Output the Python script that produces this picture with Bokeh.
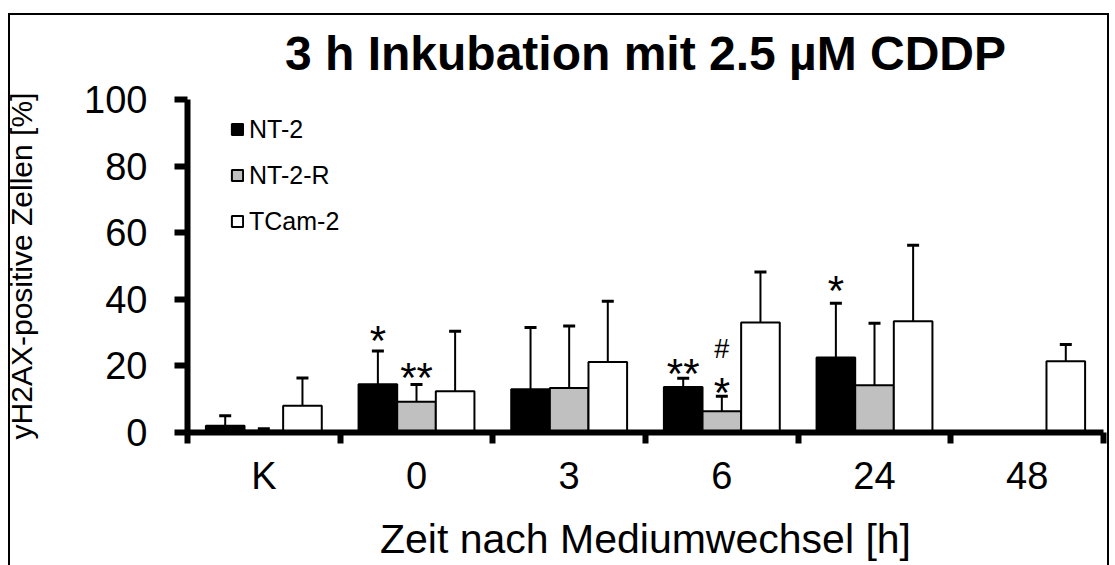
from bokeh.plotting import figure
from bokeh.models import (Range1d, FixedTicker, Whisker, TeeHead, Legend, LegendItem,
                          Title, ColumnDataSource)
from bokeh.core.properties import value
from bokeh.embed import file_html
from bokeh.resources import INLINE

# ---- data ----
categories = ["K", "0", "3", "6", "24", "48"]
series = ["NT-2", "NT-2-R", "TCam-2"]
nt2 = [2.0, 14.5, 13.0, 13.7, 22.5, 0.0]
nt2_err = [3.0, 10.0, 18.5, 2.6, 16.3, 0.0]
nt2r = [0.5, 9.2, 13.4, 6.4, 14.2, 0.0]
nt2r_err = [0.6, 5.2, 18.6, 4.5, 18.6, 0.0]
tcam = [8.0, 12.4, 21.2, 33.0, 33.4, 21.4]
tcam_err = [8.4, 18.0, 18.2, 15.2, 22.8, 5.0]

# significance marks: category, series, text, y (data value of text baseline)
ann_cat = ["0", "0", "6", "6", "6", "24"]
ann_series = ["NT-2", "NT-2-R", "NT-2", "NT-2-R", "NT-2-R", "NT-2"]
ann_text = ["*", "**", "**", "*", "#", "*"]
ann_y = [27.6, 16.6, 17.8, 12.0, 25.2, 42.5]

title_text = "3 h Inkubation mit 2.5 µM CDDP"
x_label = "Zeit nach Mediumwechsel [h]"
y_label = "yH2AX-positive Zellen [%]"
y_ticks = [0, 20, 40, 60, 80, 100]

FONT = "Liberation Sans"
BAR_W = 0.253
offsets = {"NT-2": -BAR_W, "NT-2-R": 0.0, "TCam-2": BAR_W}
fills = {"NT-2": "#000000", "NT-2-R": "#C0C0C0", "TCam-2": "#FFFFFF"}

p = figure(width=1112, height=565, x_range=Range1d(0, 6), y_range=Range1d(0, 100),
           output_backend="svg", toolbar_location=None,
           min_border_left=187, min_border_right=9, min_border_top=99, min_border_bottom=133)
p.outline_line_color = None
p.xgrid.visible = False
p.ygrid.visible = False
p.background_fill_color = None
p.border_fill_color = None

# outer frame line (top, left, right) drawn behind the transparent canvas
p.styles = {
    "background-image": "linear-gradient(#000,#000), linear-gradient(#000,#000), linear-gradient(#000,#000)",
    "background-size": "1101px 2px, 2px 600px, 2px 600px",
    "background-position": "8px 13px, 8px 13px, 1107px 13px",
    "background-repeat": "no-repeat",
    "background-color": "white",
}

vals = {"NT-2": (nt2, nt2_err), "NT-2-R": (nt2r, nt2r_err), "TCam-2": (tcam, tcam_err)}
items = []
for s in series:
    v, e = vals[s]
    xs = [i + 0.5 + offsets[s] for i in range(len(categories))]
    src = ColumnDataSource(dict(x=xs, top=v, upper=[a + b for a, b in zip(v, e)]))
    r = p.vbar(x="x", top="top", bottom=0, width=BAR_W, source=src,
               fill_color=fills[s], line_color="black", line_width=2)
    w = Whisker(base="x", lower="top", upper="upper", source=src, dimension="height",
                line_color="black", line_width=2,
                upper_head=TeeHead(size=12, line_color="black", line_width=3),
                lower_head=None)
    p.add_layout(w)
    items.append(LegendItem(label=s, renderers=[r]))

# annotation marks
ax = [categories.index(c) + 0.5 + offsets[s] for c, s in zip(ann_cat, ann_series)]
asz = ["27px" if t == "#" else "42px" for t in ann_text]
p.text(x=ax, y=ann_y, text=ann_text, text_font=value(FONT), text_font_size=asz,
       text_align="center", text_baseline="alphabetic", text_color="black")

legend = Legend(items=items, location=(43, 196), orientation="vertical",
                glyph_width=14, glyph_height=14, label_height=30, spacing=16,
                label_standoff=5, padding=0, margin=0,
                label_text_font=FONT, label_text_font_size="25px", label_text_color="black",
                border_line_color=None, background_fill_alpha=0)
p.add_layout(legend)

# x axis
xa = p.xaxis[0]
xa.ticker = FixedTicker(ticks=[i + 0.5 for i in range(len(categories))],
                        minor_ticks=list(range(len(categories) + 1)))
xa.major_label_overrides = {i + 0.5: c for i, c in enumerate(categories)}
xa.major_tick_out = 0
xa.major_tick_in = 0
xa.minor_tick_out = 11
xa.minor_tick_in = 0
xa.minor_tick_line_width = 6
xa.axis_line_width = 6
xa.major_label_standoff = 11
xa.major_label_text_font = FONT
xa.major_label_text_font_size = "38px"
xa.major_label_text_line_height = 1.0
xa.major_label_text_color = "black"
xa.axis_label = x_label
xa.axis_label_text_font = FONT
xa.axis_label_text_font_size = "41px"
xa.axis_label_text_line_height = 1.0
xa.axis_label_text_font_style = "normal"
xa.axis_label_text_color = "black"
xa.axis_label_standoff = 16

# y axis
ya = p.yaxis[0]
ya.ticker = FixedTicker(ticks=y_ticks)
ya.major_tick_out = 13
ya.major_tick_in = 0
ya.major_tick_line_width = 6
ya.minor_tick_line_color = None
ya.axis_line_width = 6
ya.major_label_standoff = 27
ya.major_label_text_font = FONT
ya.major_label_text_font_size = "38px"
ya.major_label_text_color = "black"
ya.axis_label = y_label
ya.axis_label_text_font = FONT
ya.axis_label_text_font_size = "30px"
ya.axis_label_text_line_height = 1.0
ya.axis_label_text_font_style = "normal"
ya.axis_label_text_color = "black"
ya.axis_label_standoff = 43

p.title = Title(text=title_text, align="center", text_font=FONT, text_font_size="48px",
                text_font_style="bold", text_color="black", standoff=40)

open("out.html", "w").write(file_html(p, INLINE))
